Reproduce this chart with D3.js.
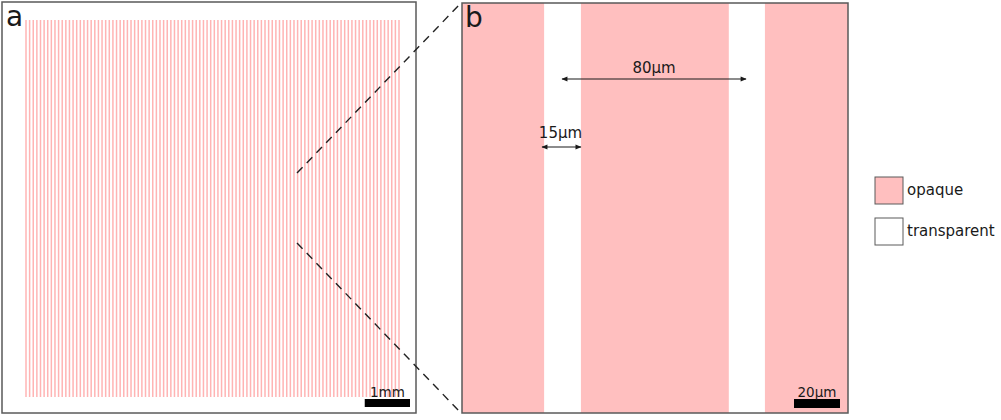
<!DOCTYPE html>
<html>
<head>
<meta charset="utf-8">
<script src="https://cdn.jsdelivr.net/npm/d3@7"></script>
<style>
  html, body { margin: 0; padding: 0; background: #fff; }
  svg { display: block; font-family: 'DejaVu Sans', Verdana, sans-serif; }
</style>
</head>
<body>
<svg id="fig" width="1001" height="420"></svg>
<script>
// Grating mask figure: (a) full mask with thin opaque lines, (b) zoomed detail
// with stripe widths, plus legend. All lengths in µm, mapped through scales.
var PITCH_UM = 80;                 // grating period
var LINE_COUNT = 104;              // lines drawn in panel a
var SCALEBAR_A_UM = 1000;          // 1mm
var SCALEBAR_B_UM = 20;

// panel b: transparent stripes [start, end] in µm from the left edge
var transparentStripes = [[35.7, 51.7], [116.0, 131.7]];
// dimension arrows in panel b
var dimArrows = [
    { x0: 43.5, x1: 123.5, label: '80\u00b5m', row: 0 },
    { x0: 34.8, x1: 51.7, label: '15\u00b5m', row: 1 }
];
var legendItems = ['opaque', 'transparent'];
var legendFill = { opaque: '#ffbfbf', transparent: '#ffffff' };

(function () {
    var svg = d3.select('#fig');
    var PINK = '#ffbfbf';
    var LINE_PINK = '#ffb4b4';
    var BORDER = '#5a5a5a';
    var INK = '#1a1a1a';

    // ---- panel a ----
    var boxA = { x: 2, y: 2, w: 414, h: 411 };
    var xA = d3.scaleLinear().domain([0, (LINE_COUNT - 1) * PITCH_UM]).range([26, 399]);
    var gA = svg.append('g');
    gA.append('rect')
        .attr('x', boxA.x).attr('y', boxA.y).attr('width', boxA.w).attr('height', boxA.h)
        .attr('fill', '#fff').attr('stroke', BORDER).attr('stroke-width', 1.5);
    gA.append('g').selectAll('line')
        .data(d3.range(LINE_COUNT).map(function (i) { return i * PITCH_UM; }))
        .join('line')
        .attr('x1', function (d) { return xA(d); }).attr('x2', function (d) { return xA(d); })
        .attr('y1', 20).attr('y2', 397)
        .attr('stroke', LINE_PINK).attr('stroke-width', 1.5);
    gA.append('text').attr('x', 6).attr('y', 26)
        .attr('font-size', 28).attr('fill', INK).text('a');

    var sbA0 = 410 - (xA(SCALEBAR_A_UM) - xA(0));
    gA.append('rect').attr('x', sbA0).attr('y', 399)
        .attr('width', xA(SCALEBAR_A_UM) - xA(0)).attr('height', 8).attr('fill', '#000');
    gA.append('text').attr('x', sbA0 + (410 - sbA0) / 2).attr('y', 397)
        .attr('text-anchor', 'middle').attr('font-size', 13.5).attr('fill', INK).text('1mm');

    // ---- zoom connectors ----
    var conn = [[297, 173, 461, 3], [297, 243, 461, 413]];
    svg.append('g').selectAll('line').data(conn).join('line')
        .attr('x1', function (d) { return d[0]; }).attr('y1', function (d) { return d[1]; })
        .attr('x2', function (d) { return d[2]; }).attr('y2', function (d) { return d[3]; })
        .attr('stroke', '#222').attr('stroke-width', 1.4).attr('stroke-dasharray', '8,6');

    // ---- panel b ----
    var boxB = { x: 462, y: 3, w: 386, h: 410 };
    var xB = d3.scaleLinear().domain([0, boxB.w / 2.3]).range([boxB.x, boxB.x + boxB.w]);
    var gB = svg.append('g');
    gB.append('rect')
        .attr('x', boxB.x).attr('y', boxB.y).attr('width', boxB.w).attr('height', boxB.h)
        .attr('fill', PINK);
    gB.append('g').selectAll('rect').data(transparentStripes).join('rect')
        .attr('x', function (d) { return xB(d[0]); })
        .attr('width', function (d) { return xB(d[1]) - xB(d[0]); })
        .attr('y', boxB.y).attr('height', boxB.h)
        .attr('fill', '#fff');
    gB.append('rect')
        .attr('x', boxB.x).attr('y', boxB.y).attr('width', boxB.w).attr('height', boxB.h)
        .attr('fill', 'none').attr('stroke', BORDER).attr('stroke-width', 1.5);
    gB.append('text').attr('x', 465).attr('y', 27)
        .attr('font-size', 28).attr('fill', INK).text('b');

    var defs = svg.append('defs');
    defs.append('marker').attr('id', 'ah')
        .attr('viewBox', '0 0 10 10').attr('refX', 9).attr('refY', 5)
        .attr('markerWidth', 9).attr('markerHeight', 6).attr('markerUnits', 'userSpaceOnUse')
        .attr('orient', 'auto-start-reverse')
        .append('path').attr('d', 'M0,1 L10,5 L0,9 Z').attr('fill', INK);

    var rowY = [79, 147], rowText = [73, 138];
    dimArrows.forEach(function (a) {
        gB.append('line')
            .attr('x1', xB(a.x0)).attr('x2', xB(a.x1))
            .attr('y1', rowY[a.row]).attr('y2', rowY[a.row])
            .attr('stroke', INK).attr('stroke-width', 1.2)
            .attr('marker-start', 'url(#ah)').attr('marker-end', 'url(#ah)');
        gB.append('text')
            .attr('x', (xB(a.x0) + xB(a.x1)) / 2 + (a.row === 1 ? -1 : 0))
            .attr('y', rowText[a.row])
            .attr('text-anchor', 'middle').attr('font-size', 15).attr('fill', INK)
            .text(a.label);
    });

    var sbBw = xB(SCALEBAR_B_UM) - xB(0);
    gB.append('rect').attr('x', 840 - sbBw).attr('y', 399)
        .attr('width', sbBw).attr('height', 9).attr('fill', '#000');
    gB.append('text').attr('x', 840 - sbBw / 2).attr('y', 397)
        .attr('text-anchor', 'middle').attr('font-size', 13.5).attr('fill', INK).text('20\u00b5m');

    // ---- legend ----
    var gL = svg.append('g');
    var item = gL.selectAll('g').data(legendItems).join('g')
        .attr('transform', function (d, i) { return 'translate(875,' + (177 + i * 41) + ')'; });
    item.append('rect').attr('width', 28).attr('height', 27)
        .attr('fill', function (d) { return legendFill[d]; })
        .attr('stroke', BORDER).attr('stroke-width', 1);
    item.append('text').attr('x', 32).attr('y', 18)
        .attr('font-size', 15).attr('fill', INK).text(function (d) { return d; });
})();
</script>
</body>
</html>
